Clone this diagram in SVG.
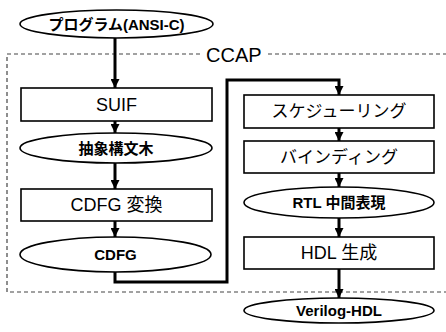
<svg xmlns="http://www.w3.org/2000/svg" width="446" height="332" viewBox="0 0 446 332">
<style>
.box{fill:#fff;stroke:#000;stroke-width:1.6}
.ell{fill:#fff;stroke:#000;stroke-width:1.6}
.t{font-family:"Liberation Sans","Noto Sans CJK JP",sans-serif;text-anchor:middle;dominant-baseline:central;fill:#000}
.r{font-size:18px}
.k{font-size:17px}
.b{font-size:15px;font-weight:bold}
.con{fill:none;stroke:#000;stroke-width:3}
.dash{fill:none;stroke:#444;stroke-width:1.2;stroke-dasharray:4 3}
</style>
<defs>
<marker id="ah" viewBox="0 0 10 10" refX="10" refY="5" markerWidth="3" markerHeight="3" orient="auto" markerUnits="strokeWidth">
<path d="M0,0 L10,5 L0,10 z" fill="#000"/>
</marker>
</defs>
<rect width="446" height="332" fill="#fff"/>
<g id="ccap">
<path class="dash" d="M200,54 H7 V292 H446 M268,54 H446"/>
<text x="206" y="62" style="font-family:'Liberation Sans',sans-serif;font-size:20px">CCAP</text>
</g>
<g id="connectors">
<path class="con" d="M115,38 V88" marker-end="url(#ah)"/>
<path class="con" d="M115,121 V133" marker-end="url(#ah)"/>
<path class="con" d="M115,163 V189" marker-end="url(#ah)"/>
<path class="con" d="M115,221 V237" marker-end="url(#ah)"/>
<path class="con" d="M115,272 V282 H227 V80 H339 V95" marker-end="url(#ah)"/>
<path class="con" d="M339,128 V141" marker-end="url(#ah)"/>
<path class="con" d="M339,173 V187" marker-end="url(#ah)"/>
<path class="con" d="M339,218 V237" marker-end="url(#ah)"/>
<path class="con" d="M339,269 V298" marker-end="url(#ah)"/>
</g>
<g id="program">
<ellipse class="ell" cx="116.5" cy="24" rx="96.5" ry="14"/>
<text class="t b" x="116.5" y="24">プログラム(ANSI-C)</text>
</g>
<g id="suif">
<rect class="box" x="21" y="88" width="191" height="33"/>
<text class="t r" x="116.5" y="104.5">SUIF</text>
</g>
<g id="ast">
<ellipse class="ell" cx="116" cy="148" rx="96" ry="15"/>
<text class="t b" x="116" y="148">抽象構文木</text>
</g>
<g id="cdfgconv">
<rect class="box" x="21" y="189" width="191" height="32"/>
<text class="t r" x="116.5" y="205">CDFG 変換</text>
</g>
<g id="cdfg">
<ellipse class="ell" cx="115.5" cy="254.5" rx="95.5" ry="17.5"/>
<text class="t b" x="115.5" y="254.5">CDFG</text>
</g>
<g id="sched">
<rect class="box" x="244" y="95" width="190" height="33"/>
<text class="t k" x="339" y="111.5">スケジューリング</text>
</g>
<g id="bind">
<rect class="box" x="244" y="141" width="190" height="32"/>
<text class="t k" x="339" y="157">バインディング</text>
</g>
<g id="rtl">
<ellipse class="ell" cx="339" cy="202.5" rx="95" ry="15.5"/>
<text class="t b" x="339" y="202.5">RTL 中間表現</text>
</g>
<g id="hdlgen">
<rect class="box" x="244" y="237" width="190" height="32"/>
<text class="t r" x="339" y="253">HDL 生成</text>
</g>
<g id="verilog">
<ellipse class="ell" cx="339" cy="310.5" rx="95" ry="12.5"/>
<text class="t b" x="339" y="310.5">Verilog-HDL</text>
</g>
</svg>
